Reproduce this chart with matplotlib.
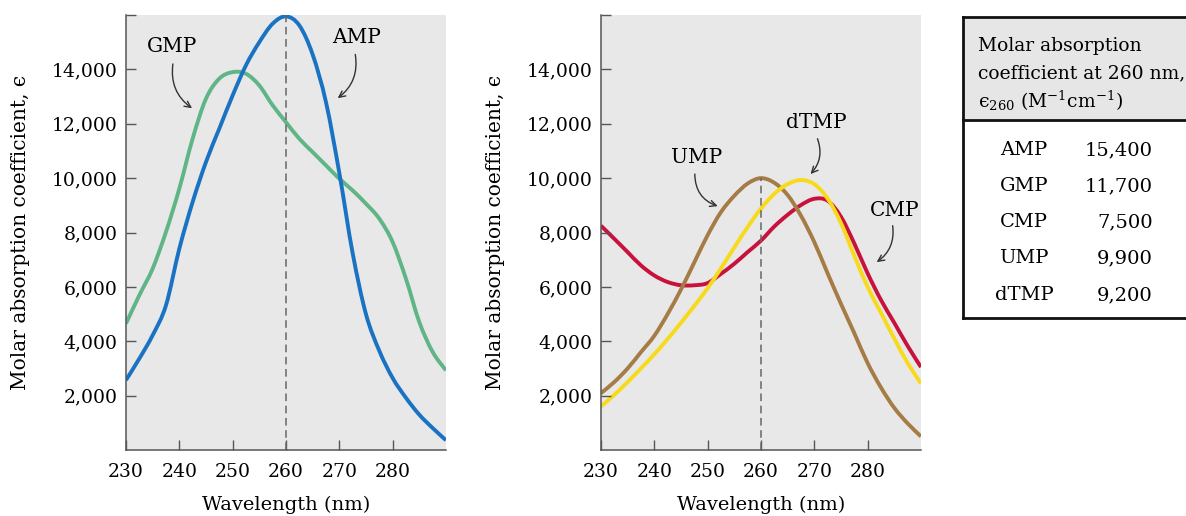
import matplotlib
matplotlib.use("Agg")
import matplotlib.pyplot as plt
from matplotlib.patches import Rectangle, PathPatch
from matplotlib.lines import Line2D
from matplotlib.path import Path

plt.rcParams['font.family'] = ['DejaVu Serif']
plt.rcParams['mathtext.fontset'] = 'dejavuserif'

# wavelength grid (nm)
wl = [230, 232.5, 235, 237.5, 240, 242.5, 245, 247.5, 250, 252.5, 255, 257.5, 260,
      262.5, 265, 267.5, 270, 272.5, 275, 277.5, 280, 282.5, 285, 287.5, 290]

amp = [2570, 3360, 4220, 5320, 7400, 9120, 10590, 11820, 13040, 14150, 15000, 15680, 15950,
       15620, 14550, 12800, 10200, 7250, 5000, 3650, 2650, 1920, 1300, 810, 360]
gmp = [4650, 5690, 6670, 8020, 9610, 11450, 12920, 13660, 13900, 13840, 13410, 12680, 12060,
       11450, 10960, 10470, 9980, 9550, 9060, 8510, 7650, 6300, 4710, 3610, 2930]
cmp_ = [8250, 7770, 7280, 6790, 6420, 6180, 6060, 6060, 6140, 6480, 6850, 7280, 7700,
        8220, 8650, 9010, 9240, 9170, 8580, 7600, 6500, 5520, 4680, 3830, 3050]
ump = [2090, 2500, 3000, 3600, 4200, 5000, 5900, 6900, 7900, 8750, 9350, 9800, 10000,
       9830, 9380, 8620, 7650, 6500, 5380, 4300, 3200, 2300, 1550, 980, 500]
dtmp = [1600, 2030, 2500, 3000, 3520, 4080, 4680, 5300, 5950, 6680, 7450, 8200, 8880,
        9420, 9780, 9930, 9780, 9250, 8350, 7150, 6000, 5050, 4100, 3200, 2450]

yticks = [2000, 4000, 6000, 8000, 10000, 12000, 14000, 16000]
xticks = [230, 240, 250, 260, 270, 280]

tab_names = ['AMP', 'GMP', 'CMP', 'UMP', 'dTMP']
tab_eps = ['15,400', '11,700', '7,500', '9,900', '9,200']

c_amp = '#1a72c2'
c_gmp = '#5fb585'
c_cmp = '#c8123c'
c_ump = '#a57c45'
c_dtmp = '#f8da1c'

fig = plt.figure(figsize=(11.86, 5.16), dpi=100)
axL = fig.add_axes([0.1062, 0.1279, 0.2698, 0.843])
axR = fig.add_axes([0.5067, 0.1279, 0.2698, 0.843])


def style(ax):
    ax.set_facecolor('#e8e8e8')
    ax.set_xlim(230, 290)
    ax.set_ylim(0, 16000)
    for s in ['top', 'right']:
        ax.spines[s].set_visible(False)
    for s in ['left', 'bottom']:
        ax.spines[s].set_color('#555555')
        ax.spines[s].set_linewidth(1.1)
    ax.set_xticks(xticks)
    ax.set_yticks(yticks)
    ax.set_yticklabels([f'{v:,}' for v in yticks[:-1]] + [''])
    ax.tick_params(direction='in', length=7, width=1, color='#555555',
                   labelsize=13.5, pad=6)
    ax.tick_params(axis='x', pad=9)
    ax.set_xlabel('Wavelength (nm)', fontsize=14)
    ax.set_ylabel('Molar absorption coefficient, ϵ', fontsize=14.5)
    ax.xaxis.set_label_coords(0.5, -0.105)
    ax.yaxis.set_label_coords(-0.30, 0.5)


def smooth_line(ax, x, y, color):
    # catmull-rom through the read points, drawn as bezier segments
    verts = [(x[0], y[0])]
    codes = [Path.MOVETO]
    n = len(x)
    for i in range(n - 1):
        p0 = (x[max(i - 1, 0)], y[max(i - 1, 0)])
        p1 = (x[i], y[i])
        p2 = (x[i + 1], y[i + 1])
        p3 = (x[min(i + 2, n - 1)], y[min(i + 2, n - 1)])
        c1 = (p1[0] + (p2[0] - p0[0]) / 6, p1[1] + (p2[1] - p0[1]) / 6)
        c2 = (p2[0] - (p3[0] - p1[0]) / 6, p2[1] - (p3[1] - p1[1]) / 6)
        verts += [c1, c2, p2]
        codes += [Path.CURVE4] * 3
    ax.add_patch(PathPatch(Path(verts, codes), facecolor='none', edgecolor=color,
                           lw=2.8, capstyle='butt', joinstyle='round'))


style(axL)
style(axR)

# left panel
axL.plot([260, 260], [0, 16000], color='#666666', lw=1.1, ls=(0, (5, 3)))
smooth_line(axL, wl, gmp, c_gmp)
smooth_line(axL, wl, amp, c_amp)

# right panel
axR.plot([260, 260], [0, 10000], color='#666666', lw=1.1, ls=(0, (5, 3)))
smooth_line(axR, wl, cmp_, c_cmp)
smooth_line(axR, wl, ump, c_ump)
smooth_line(axR, wl, dtmp, c_dtmp)

arrow = dict(arrowstyle='->,head_length=0.45,head_width=0.22', color='#333333',
             lw=1.0, shrinkA=0, shrinkB=0)


def label(ax, text, txy, start, end, rad):
    ax.text(txy[0], txy[1], text, fontsize=14.5, ha='center', va='center')
    ax.annotate('', xy=end, xytext=start,
                arrowprops=dict(arrow, connectionstyle=f'arc3,rad={rad}'))


label(axL, 'GMP', (238.6, 14850), (238.8, 14200), (242.4, 12570), 0.3)
label(axL, 'AMP', (273.3, 15180), (273.0, 14550), (269.7, 12940), -0.3)
label(axR, 'UMP', (248.0, 10770), (247.6, 10150), (251.9, 8970), 0.35)
label(axR, 'dTMP', (270.4, 12060), (270.6, 11450), (269.3, 10150), -0.3)
label(axR, 'CMP', (285.1, 8820), (284.7, 8250), (281.7, 6910), -0.3)

# table on the right
x0, x1 = 963 / 1186, 1.01
y_top, y_sep, y_bot = 1 - 17 / 516, 1 - 120 / 516, 1 - 318 / 516
fig.patches.append(Rectangle((x0, y_sep), x1 - x0, y_top - y_sep, transform=fig.transFigure,
                             facecolor='#e6e6e6', edgecolor='none'))
for xs, ys in [([x0, x1], [y_top, y_top]), ([x0, x1], [y_sep, y_sep]),
               ([x0, x1], [y_bot, y_bot]), ([x0, x0], [y_top, y_bot])]:
    fig.add_artist(Line2D(xs, ys, transform=fig.transFigure, color='#111111', lw=2))

hx = 978 / 1186
fig.text(hx, 1 - 46 / 516, 'Molar absorption', fontsize=13.5, va='center')
fig.text(hx, 1 - 73 / 516, 'coefficient at 260 nm,', fontsize=13.5, va='center')
fig.text(hx, 1 - 101 / 516, 'ϵ$_{260}$ (M$^{-1}$cm$^{-1}$)', fontsize=13.5, va='center')

row_y = [150, 186, 222, 258, 295]
for name, val, yy in zip(tab_names, tab_eps, row_y):
    fig.text(1024 / 1186, 1 - yy / 516, name, fontsize=14, ha='center', va='center')
    fig.text(1153 / 1186, 1 - yy / 516, val, fontsize=14, ha='right', va='center')

fig.savefig('out.png', dpi=100)
